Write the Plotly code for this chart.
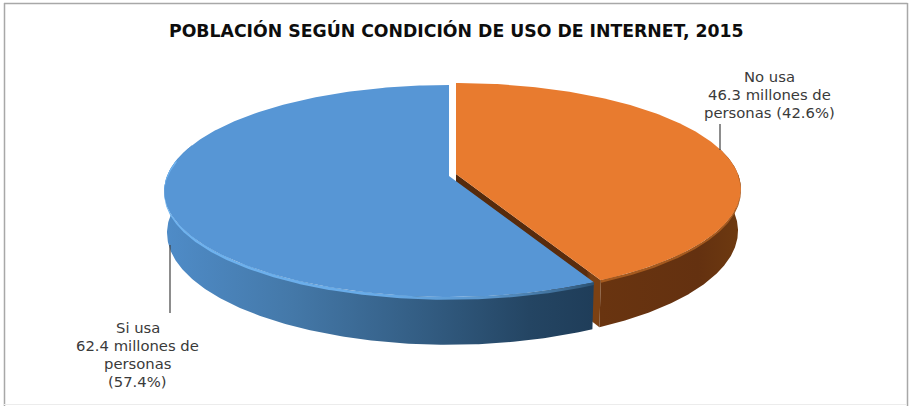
import numpy as np
import plotly.graph_objects as go

# Población según condición de uso de internet (millones de personas)
categories = ["No usa", "Si usa"]
values = [46.3, 62.4]
shares = [42.6, 57.4]
title = "POBLACIÓN SEGÚN CONDICIÓN DE USO DE INTERNET, 2015"
label_lines_no = ["No usa", "46.3 millones de", "personas (42.6%)"]
label_lines_si = ["Si usa", "62.4 millones de", "personas", "(57.4%)"]

WIDTH, HEIGHT = 909, 406

# Pie geometry on a pixel-sized plot area, tilted with a light perspective
RX, RY, PERSP, DEPTH = 282.0, 103.9, 0.1415, 41.0
FLOOR_SCALE = 0.99
CENTER_NO = (456.0, 174.0)
CENTER_SI = (449.0, 176.0)


def project(theta, center, drop=0.0, scale=1.0):
    """Clockwise angle from 12 o'clock to plot coordinates."""
    u, v = np.sin(theta), np.cos(theta)
    w = 1 + PERSP * v
    return center[0] + scale * RX * u / w, center[1] - RY * v / w + drop / w


def arc(start, stop, center, drop=0.0, scale=1.0, n=240):
    return project(np.linspace(start, stop, n), center, drop, scale)


def polygon(x_parts, y_parts, **kw):
    return go.Scatter(
        x=np.concatenate(x_parts), y=np.concatenate(y_parts), mode="lines",
        fill="toself", line=dict(width=0), hoverinfo="skip", showlegend=False, **kw
    )


def gradient(stops, start, stop):
    return dict(type="horizontal", colorscale=stops, start=start, stop=stop)


split = 2 * np.pi * values[0] / sum(values)
full = 2 * np.pi
edge = np.array([split])

fig = go.Figure()

# Orange slice: cut face and outer wall
cx0, cy0 = CENTER_NO
ex, ey = project(edge, CENTER_NO)
lx, ly = project(edge, CENTER_NO, DEPTH, FLOOR_SCALE)
fig.add_trace(polygon(
    [np.array([cx0, ex[0], lx[0], cx0])],
    [np.array([cy0, ey[0], ly[0], cy0 + DEPTH])],
    fillgradient=gradient([[0, "#552a0c"], [0.9, "#5a2c0d"], [0.93, "#7c4113"], [1, "#7c4113"]], cx0, ex[0]),
))
tx, ty = arc(np.pi * 0.42, split, CENTER_NO)
bx, by = arc(split, np.pi * 0.42, CENTER_NO, DEPTH, FLOOR_SCALE)
fig.add_trace(polygon(
    [tx, bx], [ty, by],
    fillgradient=gradient([[0, "#693410"], [0.7, "#643110"], [1, "#6e3a10"]], 600, 741),
))

# Blue slice: outer wall with its left-to-right shading
tx, ty = arc(split, np.pi * 1.6, CENTER_SI)
bx, by = arc(np.pi * 1.6, split, CENTER_SI, DEPTH, FLOOR_SCALE)
fig.add_trace(polygon(
    [tx, bx], [ty, by],
    fillgradient=gradient(
        [[0, "#4f8cc8"], [0.3, "#4478a8"], [0.6, "#335d83"], [0.85, "#244563"], [1, "#1f3d59"]],
        164, 594,
    ),
))

# Blue top face and bevelled front rim
tx, ty = arc(split, full, CENTER_SI)
fig.add_trace(polygon(
    [np.array([CENTER_SI[0]]), tx], [np.array([CENTER_SI[1]]), ty],
    fillcolor="#5796d5",
))
rx0, ry0 = arc(split, np.pi * 1.55, CENTER_SI)
rx1, ry1 = arc(np.pi * 1.55, split, CENTER_SI, 2.4)
fig.add_trace(polygon(
    [rx0, rx1], [ry0, ry1],
    fillgradient=gradient(
        [[0, "#70b4f0"], [0.5, "#68abe8"], [0.75, "#5a97cf"], [0.92, "#3f6f99"], [1, "#2a5070"]], 164, 594
    ),
))

# Orange top face and its rim
tx, ty = arc(0, split, CENTER_NO)
fig.add_trace(polygon(
    [np.array([cx0]), tx], [np.array([cy0]), ty],
    fillcolor="#e87b2f",
))
rx0, ry0 = arc(np.pi * 0.5, split, CENTER_NO)
rx1, ry1 = arc(split, np.pi * 0.5, CENTER_NO, 2.2)
fig.add_trace(polygon([rx0, rx1], [ry0, ry1], fillcolor="#a55a1f"))


def add_text(lines, center_x, first_y, step=18.0):
    for i, line in enumerate(lines):
        fig.add_annotation(
            x=center_x, y=first_y + i * step, text=line, showarrow=False,
            xanchor="center", yanchor="middle",
            font=dict(family="DejaVu Sans", size=14.8, color="#3a3a3a"),
        )


add_text(label_lines_no, 769, 76)
add_text(label_lines_si, 137.5, 327)

fig.add_annotation(
    x=456.5, y=30, text=f"<b>{title}</b>", showarrow=False,
    xanchor="center", yanchor="middle",
    font=dict(family="DejaVu Sans", size=17.3, color="#0d0d0d"),
)

frame = dict(color="#a8a8a8", width=1.5)
fig.update_layout(
    width=WIDTH, height=HEIGHT, autosize=False,
    margin=dict(l=0, r=0, t=0, b=0),
    paper_bgcolor="white", plot_bgcolor="white", showlegend=False,
    xaxis=dict(range=[0, WIDTH], visible=False, fixedrange=True),
    yaxis=dict(range=[HEIGHT, 0], visible=False, fixedrange=True),
    shapes=[
        # leader lines from the slices to their labels
        dict(type="line", x0=170, x1=170, y0=245, y1=313, line=dict(color="#404040", width=1.2)),
        dict(type="line", x0=720, x1=720, y0=124, y1=150, line=dict(color="#404040", width=1.2)),
        # chart frame
        dict(type="line", x0=4, x1=907.5, y0=3.5, y1=3.5, line=frame),
        dict(type="line", x0=4.5, x1=4.5, y0=3, y1=406, line=frame),
        dict(type="line", x0=907.5, x1=907.5, y0=3, y1=406, line=frame),
        dict(type="line", x0=4, x1=907, y0=404.5, y1=404.5, line=dict(color="#ececec", width=1)),
    ],
)

fig.write_html("out.html", config=dict(displayModeBar=False))
